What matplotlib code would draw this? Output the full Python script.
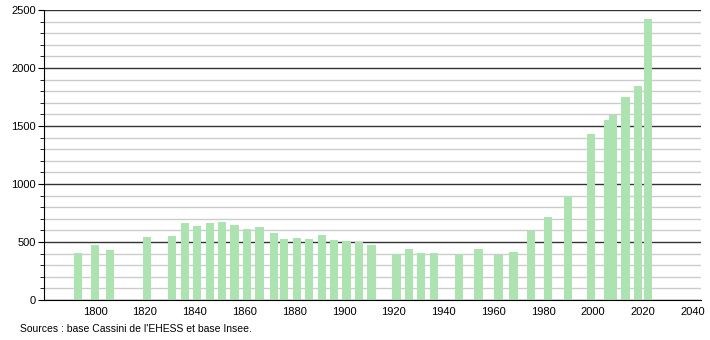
import matplotlib
matplotlib.use("Agg")
import matplotlib.pyplot as plt
from matplotlib.ticker import MultipleLocator

plt.rcParams["font.family"] = ["Liberation Sans", "DejaVu Sans"]

# années de recensement et population
years = [1793, 1800, 1806, 1821, 1831, 1836, 1841, 1846, 1851, 1856,
         1861, 1866, 1872, 1876, 1881, 1886, 1891, 1896, 1901, 1906,
         1911, 1921, 1926, 1931, 1936, 1946, 1954, 1962, 1968, 1975,
         1982, 1990, 1999, 2006, 2008, 2013, 2018, 2022]
population = [405, 475, 431, 544, 552, 664, 638, 664, 673, 647,
              612, 630, 578, 526, 535, 526, 561, 518, 509, 500,
              474, 397, 440, 405, 405, 397, 440, 388, 414, 595,
              716, 895, 1432, 1553, 1596, 1752, 1846, 2425]
x_ticks = [1800, 1820, 1840, 1860, 1880, 1900, 1920, 1940, 1960, 1980, 2000, 2020, 2040]
source = "Sources : base Cassini de l'EHESS et base Insee."

fig = plt.figure(figsize=(7.1, 3.4), dpi=100)
ax = fig.add_axes([44 / 710, 1 - 300 / 340, (701 - 44) / 710, 290 / 340])

ax.bar(years, population, width=3.3, color="#ade3b0", zorder=3)

ax.set_xlim(1779.5, 2043.3)
ax.set_ylim(0, 2500)
ax.set_xticks(x_ticks)
ax.yaxis.set_major_locator(MultipleLocator(500))
ax.yaxis.set_minor_locator(MultipleLocator(100))

ax.grid(axis="y", which="minor", color="#cccccc", linewidth=1, zorder=1)
ax.grid(axis="y", which="major", color="#333333", linewidth=1, zorder=2)

for side in ["top", "right"]:
    ax.spines[side].set_visible(False)
ax.spines["left"].set_zorder(4)
ax.spines["bottom"].set_zorder(4)

ax.tick_params(axis="x", length=0, labelsize=8, pad=5)
ax.tick_params(axis="y", which="major", length=4, labelsize=8, pad=2)
ax.tick_params(axis="y", which="minor", length=3)

fig.text(20 / 710, 1 - 329 / 340, source, fontsize=7.5, va="center", ha="left")

fig.savefig("out.png", dpi=100)
